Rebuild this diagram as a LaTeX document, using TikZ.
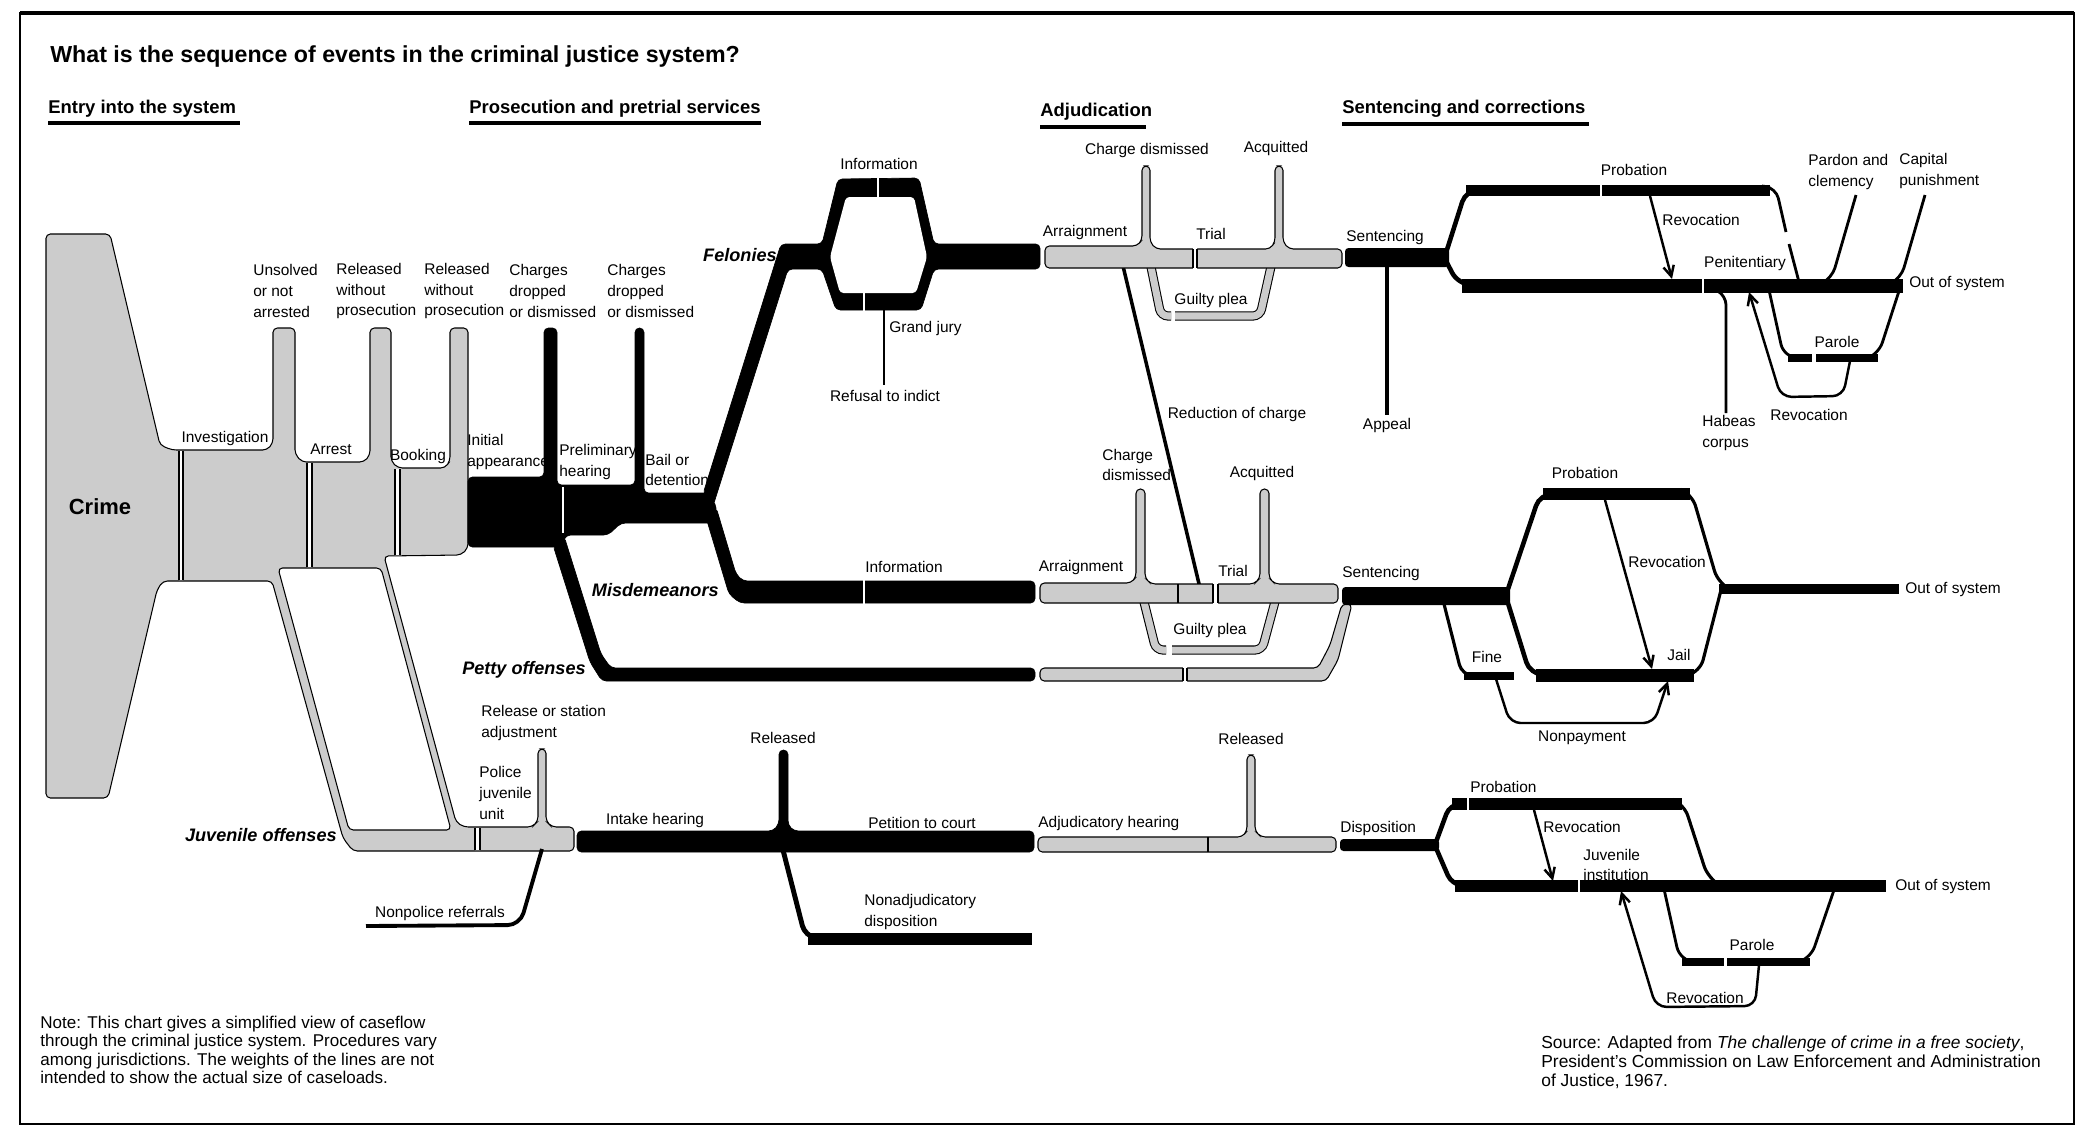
\documentclass[tikz,border=0pt]{standalone}
\usepackage{fontspec}
\setmainfont{Liberation Sans}
\usetikzlibrary{arrows.meta}

\tikzset{
  lbl/.style={font=\fontsize{8.8}{11.8}\selectfont, inner sep=0pt, align=left},
  cat/.style={font=\fontsize{10.3}{12}\selectfont\bfseries\itshape, inner sep=0pt, anchor=east},
  hdr/.style={font=\fontsize{10.5}{12}\selectfont\bfseries, inner sep=0pt, anchor=base west},
  gband/.style={fill=black!20, draw=black, line width=0.6pt, rounded corners=2.5pt},
  bband/.style={fill=black, draw=black, line width=0.4pt, rounded corners=2.5pt},
  ploop/.style={draw=black, line width=0.6pt, double=black!20, double distance=4pt, rounded corners=4pt},
  conn/.style={line width=1.6pt},
  arr/.style={line width=1.4pt, -{Straight Barb[length=6pt,width=6pt]}},
  wgap/.style={white, line width=1.2pt},
}

\begin{document}
\begin{tikzpicture}[x=0.02cm, y=-0.02cm]
\useasboundingbox (0,0) rectangle (2083,1127);

% frame and headings
\draw[line width=0.8pt] (20,13) rectangle (2074,1124);
\draw[line width=1.8pt] (20,13) -- (2074,13);
\node[font=\fontsize{13.2}{15}\selectfont\bfseries, inner sep=0pt, anchor=base west] (ttl) at (50,62)
  {What is the sequence of events in the criminal justice system?};
\node[hdr] (hentry) at (48,113) {Entry into the system};
\node[hdr] (hpros) at (469,113) {Prosecution and pretrial services};
\node[hdr] (hadj) at (1040,116) {Adjudication};
\node[hdr] (hsent) at (1342,113) {Sentencing and corrections};
\draw[line width=2pt] (48,123) -- (240,123) (469,123) -- (761,123)
  (1040,127) -- (1146,127) (1342,124) -- (1589,124);

% entry into the system
\filldraw[gband] (46,234) -- (110,234) -- (160,445) -- (172,450) -- (267,450) -- (273,443)
  -- (273,328) -- (295,328) -- (295,454) -- (302,462) -- (364,462) -- (370,455)
  -- (370,328) -- (391,328) -- (391,461) -- (398,468) -- (445,468) -- (450,461)
  -- (450,328) -- (468,328) -- (468,548) -- (461,555) -- (384,556) -- (456,822)
  -- (464,827) -- (532,827) -- (538,821) -- (538,749) -- (546,749) -- (546,821)
  -- (552,827) -- (574,827) -- (574,851) -- (353,851) -- (343,838) -- (272,581)
  -- (163,581) -- (157,590) -- (108,798) -- (46,798) -- cycle;
\filldraw[fill=white, draw=black, line width=0.6pt, rounded corners=2.5pt]
  (278,568) -- (381,568) -- (451,830) -- (349,830) -- cycle;
\fill[white] (179,451) rectangle (183,580) (307,463) rectangle (312,567)
  (395,469) rectangle (400,555) (475,828) rectangle (480,850);
\draw[line width=0.6pt] (179,451) -- (179,580) (183,451) -- (183,580)
  (307,463) -- (307,567) (312,463) -- (312,567) (395,469) -- (395,555) (400,469) -- (400,555)
  (475,828) -- (475,850) (480,828) -- (480,850);

% prosecution trunk
\filldraw[bband] (468,477) -- (544,477) -- (544,328) -- (557,328) -- (557,485) -- (635,485)
  -- (635,328) -- (644,328) -- (644,493) -- (709,493) -- (717,508) -- (712,523)
  -- (621,523) -- (608,535) -- (566,535) -- (561,547) -- (468,547) -- cycle;
\filldraw[bband] (703,494) -- (781,244) -- (822,244) -- (838,179) -- (919,178) -- (934,244)
  -- (1040,244) -- (1040,269) -- (934,269) -- (921,310) -- (836,310) -- (822,269)
  -- (788,269) -- (713,506) -- cycle;
\fill[white, rounded corners=2pt] (830,257) -- (846,197) -- (914,197) -- (927,257)
  -- (916,293) -- (840,293) -- cycle;
\filldraw[bband] (705,514) -- (729,594) -- (740,603) -- (1035,603) -- (1035,581) -- (743,581)
  -- (736,574) -- (716,507) -- cycle;
\filldraw[bband] (553,545) -- (590,662) -- (602,681) -- (1035,681) -- (1035,668) -- (611,668)
  -- (601,654) -- (564,536) -- cycle;
\draw[wgap] (563,487) -- (563,533) (878,177) -- (878,197) (864,293) -- (864,311)
  (864,580) -- (864,604);
\draw[line width=1.5pt] (884,310) -- (884,385);

% adjudication
\draw[line width=2pt] (1123,266) -- (1200,588);
\draw[ploop] (1150,262) -- (1161,316) -- (1171,316);
\draw[ploop] (1175,316) -- (1260,316) -- (1272,262);
\draw[ploop] (1143,598) -- (1156,650) -- (1166,650);
\draw[ploop] (1172,650) -- (1262,650) -- (1276,598);
\filldraw[gband] (1045,246) -- (1137,246) -- (1142,240) -- (1142,166) -- (1150,166) -- (1150,242)
  -- (1156,249) -- (1270,249) -- (1275,242) -- (1275,166) -- (1283,166) -- (1283,242)
  -- (1289,249) -- (1342,249) -- (1342,268) -- (1045,268) -- cycle;
\filldraw[gband] (1040,583) -- (1131,583) -- (1136,577) -- (1136,489) -- (1145,489) -- (1145,578)
  -- (1151,584) -- (1254,584) -- (1260,578) -- (1260,489) -- (1269,489) -- (1269,578)
  -- (1275,584) -- (1338,584) -- (1338,603) -- (1040,603) -- cycle;
\filldraw[gband] (1040,668) -- (1318,668) -- (1330,645) -- (1342,604) -- (1352,604)
  -- (1338,660) -- (1326,681) -- (1040,681) -- cycle;
\fill[white] (1193,248) rectangle (1197,269) (1213,583) rectangle (1218,604)
  (1183,667) rectangle (1187,682);
\draw[line width=0.6pt] (1193,249) -- (1193,268) (1197,249) -- (1197,268)
  (1213,584) -- (1213,603) (1218,584) -- (1218,603) (1183,668) -- (1183,681)
  (1187,668) -- (1187,681) (1178,584) -- (1178,603);

% sentencing, felonies
\fill[rounded corners=2pt] (1345,248) rectangle (1449,267);
\draw[line width=2.2pt] (1387,264) -- (1387,415);
\draw[line width=2.6pt, rounded corners=7pt] (1445,256) -- (1466,190) -- (1490,190);
\draw[line width=6.3pt] (1466,190.5) -- (1770,190.5);
\draw[line width=1.6pt, rounded corners=6pt] (1762,186) -- (1776,188) -- (1786,232);
\draw[line width=1.6pt] (1789,244) -- (1799,282);
\draw[line width=2.6pt, rounded corners=7pt] (1445,259) -- (1458,284) -- (1490,286);
\draw[line width=7.8pt] (1462,286) -- (1903,286);
\draw[wgap] (1601,184) -- (1601,197) (1703,278) -- (1703,294);
\draw[arr] (1650,196) -- (1672,279);
\draw[conn, rounded corners=6pt] (1856,195) -- (1832,278) -- (1824,282);
\draw[conn, rounded corners=6pt] (1925,195) -- (1901,278) -- (1893,282);
\draw[conn, rounded corners=5pt] (1716,290) -- (1726,296) -- (1726,413);
\draw[conn, rounded corners=8pt] (1769,290) -- (1784,358) -- (1800,358);
\draw[line width=4pt] (1788,358) -- (1812,358) (1816,358) -- (1878,358);
\draw[conn, rounded corners=8pt] (1870,358) -- (1878,356) -- (1899,291);
\draw[arr, rounded corners=6pt] (1850,361) -- (1843,396) -- (1781,397) -- (1749,292);

% sentencing, misdemeanors
\fill[rounded corners=2pt] (1342,587) rectangle (1510,605);
\draw[line width=2.6pt, rounded corners=7pt] (1507,592) -- (1540,494) -- (1560,494);
\draw[line width=6.8pt] (1543,494) -- (1690,494);
\draw[line width=1.8pt, rounded corners=7pt] (1682,490) -- (1692,494) -- (1718,583) -- (1730,589);
\draw[line width=5.7pt] (1719,589) -- (1899,589);
\draw[line width=2.6pt, rounded corners=7pt] (1507,600) -- (1530,674) -- (1550,675);
\draw[line width=7.4pt] (1536,675) -- (1694,675);
\draw[line width=1.8pt, rounded corners=7pt] (1688,675) -- (1700,672) -- (1721,590);
\draw[line width=1.8pt, rounded corners=6pt] (1444,604) -- (1462,675) -- (1475,676);
\draw[line width=4.6pt] (1464,676) -- (1514,676);
\draw[arr, rounded corners=6pt] (1496,679) -- (1510,723) -- (1654,723) -- (1668,681);
\draw[arr] (1605,500) -- (1652,669);

% juvenile
\filldraw[bband] (577,831) -- (773,831) -- (779,824) -- (779,750) -- (788,750) -- (788,825)
  -- (794,831) -- (1034,831) -- (1034,852) -- (577,852) -- cycle;
\draw[line width=2.8pt, rounded corners=6pt] (783,850) -- (805,936) -- (820,939);
\draw[line width=6.6pt] (808,939) -- (1032,939);
\draw[line width=2.2pt, rounded corners=7pt] (542,849) -- (520,925) -- (366,926);
\filldraw[gband] (1038,837) -- (1242,837) -- (1247,831) -- (1247,755) -- (1255,755) -- (1255,831)
  -- (1261,837) -- (1336,837) -- (1336,852) -- (1038,852) -- cycle;
\draw[line width=0.6pt] (1208,837) -- (1208,852);
\fill[rounded corners=2pt] (1340,839) rectangle (1439,851);
\draw[line width=2.6pt, rounded corners=6pt] (1436,842) -- (1450,804) -- (1470,804);
\draw[line width=6.8pt] (1452,804) -- (1682,804);
\draw[line width=1.8pt, rounded corners=7pt] (1674,800) -- (1684,804) -- (1708,878) -- (1718,884);
\draw[line width=2.6pt, rounded corners=6pt] (1436,848) -- (1452,885) -- (1470,886);
\draw[line width=6.3pt] (1455,886) -- (1886,886);
\draw[wgap] (1468,797) -- (1468,811) (1579,879) -- (1579,893);
\draw[arr] (1534,810) -- (1553,881);
\draw[conn, rounded corners=8pt] (1664,889) -- (1680,961) -- (1695,962);
\draw[line width=5pt] (1682,962) -- (1724,962) (1727,962) -- (1810,962);
\draw[conn, rounded corners=8pt] (1800,962) -- (1810,960) -- (1834,890);
\draw[arr, rounded corners=6pt] (1759,965) -- (1755,1006) -- (1656,1007) -- (1621,891);

% labels
\node[font=\fontsize{12.5}{14}\selectfont\bfseries, inner sep=0pt] (crime) at (100,507) {Crime};
\node[lbl] (invest) at (225,438) {Investigation};
\node[lbl] (arrest) at (331,449) {Arrest};
\node[lbl] (booking) at (418,456) {Booking};
\node[lbl, anchor=west] (initial) at (467,452) {Initial\\appearance};
\node[lbl, anchor=west] (prelim) at (559,462) {Preliminary\\hearing};
\node[lbl, anchor=west] (bail) at (645,470) {Bail or\\detention};
\node[lbl, anchor=west] (unsolved) at (253,291) {Unsolved\\or not\\arrested};
\node[lbl, anchor=west] (relA) at (336,291) {Released\\without\\prosecution};
\node[lbl, anchor=west] (relB) at (424,291) {Released\\without\\prosecution};
\node[lbl, anchor=west] (dropA) at (509,291) {Charges\\dropped\\or dismissed};
\node[lbl, anchor=west] (dropB) at (607,291) {Charges\\dropped\\or dismissed};
\node[cat] (felonies) at (777,255) {Felonies};
\node[cat] (misdem) at (719,590) {Misdemeanors};
\node[cat] (petty) at (586,670) {Petty offenses};
\node[cat] (juvoff) at (337,835) {Juvenile offenses};
\node[lbl] (infoA) at (879,164) {Information};
\node[lbl, anchor=west] (grandjury) at (889,328) {Grand jury};
\node[lbl] (refusal) at (885,396) {Refusal to indict};
\node[lbl] (infoB) at (904,567) {Information};
\node[lbl] (dismA) at (1147,150) {Charge dismissed};
\node[lbl] (acqA) at (1276,148) {Acquitted};
\node[lbl] (arrA) at (1085,232) {Arraignment};
\node[lbl] (trialA) at (1211,234) {Trial};
\node[lbl] (pleaA) at (1211,300) {Guilty plea};
\node[lbl] (reduction) at (1237,414) {Reduction of charge};
\node[lbl, anchor=west] (dismB) at (1102,465) {Charge\\dismissed};
\node[lbl] (acqB) at (1262,473) {Acquitted};
\node[lbl] (arrB) at (1081,567) {Arraignment};
\node[lbl] (trialB) at (1233,571) {Trial};
\node[lbl] (pleaB) at (1210,630) {Guilty plea};
\node[lbl, anchor=west] (sentA) at (1346,237) {Sentencing};
\node[lbl] (appeal) at (1387,425) {Appeal};
\node[lbl] (probA) at (1634,170) {Probation};
\node[lbl, anchor=west] (revA) at (1662,220) {Revocation};
\node[lbl] (penit) at (1745,263) {Penitentiary};
\node[lbl, anchor=west] (pardon) at (1808,172) {Pardon and\\clemency};
\node[lbl, anchor=west] (capital) at (1899,171) {Capital\\punishment};
\node[lbl, anchor=west] (outA) at (1909,284) {Out of system};
\node[lbl] (paroleA) at (1837,342) {Parole};
\node[lbl, anchor=west] (habeas) at (1702,433) {Habeas\\corpus};
\node[lbl] (revB) at (1809,415) {Revocation};
\node[lbl, anchor=west] (sentB) at (1342,573) {Sentencing};
\node[lbl] (probB) at (1585,473) {Probation};
\node[lbl, anchor=west] (revC) at (1628,562) {Revocation};
\node[lbl, anchor=west] (outB) at (1905,589) {Out of system};
\node[lbl] (fine) at (1487,657) {Fine};
\node[lbl] (jail) at (1679,655) {Jail};
\node[lbl] (nonpay) at (1582,738) {Nonpayment};
\node[lbl, anchor=west] (station) at (481,723) {Release or station\\adjustment};
\node[lbl, anchor=west] (police) at (479,793) {Police\\juvenile\\unit};
\node[lbl] (nonpolice) at (440,913) {Nonpolice referrals};
\node[lbl] (intake) at (655,820) {Intake hearing};
\node[lbl] (relC) at (783,738) {Released};
\node[lbl] (petition) at (922,823) {Petition to court};
\node[lbl, anchor=west] (nonadj) at (864,912) {Nonadjudicatory\\disposition};
\node[lbl, anchor=west] (adjhear) at (1038,823) {Adjudicatory hearing};
\node[lbl] (relD) at (1251,739) {Released};
\node[lbl, anchor=west] (dispo) at (1340,828) {Disposition};
\node[lbl, anchor=west] (probC) at (1470,787) {Probation};
\node[lbl, anchor=west] (revD) at (1543,827) {Revocation};
\node[lbl, anchor=west] (juvinst) at (1583,865) {Juvenile\\institution};
\node[lbl, anchor=west] (outC) at (1895,886) {Out of system};
\node[lbl] (paroleB) at (1752,945) {Parole};
\node[lbl] (revE) at (1705,998) {Revocation};

% note and source
\node[font=\fontsize{9.7}{10.4}\selectfont, inner sep=0pt, align=left, anchor=west] (note) at (40,1050)
  {Note: This chart gives a simplified view of caseflow\\
   through the criminal justice system. Procedures vary\\
   among jurisdictions. The weights of the lines are not\\
   intended to show the actual size of caseloads.};
\node[font=\fontsize{9.9}{10.9}\selectfont, inner sep=0pt, align=left, anchor=west] (source) at (1541,1062)
  {Source: Adapted from \textit{The challenge of crime in a free society},\\
   President's Commission on Law Enforcement and Administration\\
   of Justice, 1967.};
\end{tikzpicture}
\end{document}
